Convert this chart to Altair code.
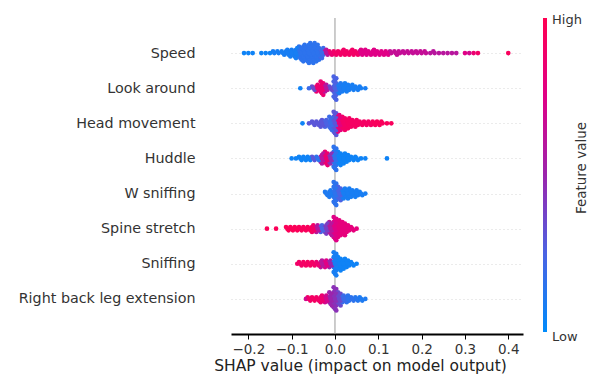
import altair as alt
import pandas as pd

# Features, top to bottom
features = ["Speed", "Look around", "Head movement", "Huddle", "W sniffing",
            "Spine stretch", "Sniffing", "Right back leg extension"]

# Per feature: SHAP bin centres, number of dots in the bin, feature value (0=low, 1=high)
speed_x = [-0.21, -0.20, -0.19, -0.17, -0.16, -0.15, -0.14, -0.13, -0.12, -0.11, -0.10, -0.09, -0.08,
           -0.07, -0.06, -0.05, -0.04, -0.03, -0.02, -0.01, 0.00, 0.01, 0.02, 0.03, 0.04, 0.05, 0.06,
           0.07, 0.08, 0.09, 0.10, 0.11, 0.12, 0.13, 0.14, 0.15, 0.16, 0.17, 0.18, 0.19, 0.20, 0.21,
           0.22, 0.23, 0.24, 0.25, 0.26, 0.27, 0.28, 0.30, 0.31, 0.32, 0.33, 0.40]
speed_n = [1, 1, 1, 1, 1, 1, 2, 2, 3, 4, 5, 7, 9, 11, 13, 13, 11, 7, 4, 3, 3, 3, 4, 3, 4, 3, 4,
           4, 3, 4, 3, 3, 3, 2, 3, 2, 2, 2, 2, 2, 2, 2, 1, 2, 1, 1, 1, 1, 1, 1, 1, 1, 1, 1]
speed_c = [0.05, 0.05, 0.05, 0.05, 0.05, 0.05, 0.08, 0.08, 0.08, 0.08, 0.08, 0.08, 0.15, 0.15, 0.15,
           0.15, 0.15, 0.2, 0.6, 0.85, 0.9, 0.9, 0.9, 0.9, 0.9, 0.9, 0.75, 0.75, 0.75, 0.75, 0.75,
           0.75, 0.75, 0.65, 0.65, 0.65, 0.65, 0.65, 0.65, 0.65, 0.65, 0.65, 0.6, 0.6, 0.6, 0.6, 0.6,
           0.6, 0.6, 0.75, 0.7, 0.85, 0.9, 0.95]

look_x = [-0.08, -0.06, -0.05, -0.04, -0.03, -0.02, -0.01, 0.00, 0.01, 0.02, 0.03, 0.04, 0.05, 0.06, 0.07]
look_n = [1, 1, 3, 5, 9, 5, 3, 15, 7, 6, 5, 4, 3, 2, 1]
look_c = [0.05, 0.2, 0.35, 0.85, 0.85, 0.6, 0.35, 0.25, 0.1, 0.08, 0.08, 0.08, 0.08, 0.08, 0.08]

head_x = [-0.075, -0.06, -0.05, -0.04, -0.03, -0.02, -0.01, 0.00, 0.01, 0.02, 0.03, 0.04, 0.05,
          0.06, 0.07, 0.08, 0.09, 0.10, 0.11, 0.12, 0.13]
head_n = [1, 1, 3, 3, 5, 5, 9, 15, 11, 9, 7, 5, 5, 3, 3, 3, 3, 3, 2, 1, 1]
head_c = [0.05, 0.3, 0.3, 0.3, 0.3, 0.25, 0.2, 0.3, 0.8, 0.9, 0.92, 0.92, 0.92, 0.92, 0.92, 0.92,
          0.95, 0.95, 0.95, 0.95, 0.95]

huddle_x = [-0.10, -0.09, -0.08, -0.07, -0.06, -0.05, -0.04, -0.03, -0.02, -0.01, 0.00, 0.01, 0.02,
            0.03, 0.04, 0.05, 0.06, 0.07, 0.12]
huddle_n = [1, 1, 3, 3, 3, 3, 3, 7, 9, 7, 15, 9, 7, 5, 3, 3, 1, 1, 1]
huddle_c = [0.05, 0.05, 0.05, 0.05, 0.05, 0.3, 0.15, 0.6, 0.85, 0.45, 0.15, 0.05, 0.05, 0.05, 0.05,
            0.05, 0.05, 0.05, 0.05]

wsniff_x = [-0.02, -0.01, 0.00, 0.01, 0.02, 0.03, 0.04, 0.05, 0.06, 0.07]
wsniff_n = [3, 5, 15, 9, 7, 7, 5, 5, 3, 1]
wsniff_c = [0.1, 0.1, 0.15, 0.25, 0.08, 0.08, 0.08, 0.08, 0.08, 0.08]

spine_x = [-0.157, -0.136, -0.11, -0.10, -0.09, -0.08, -0.07, -0.06, -0.05, -0.04, -0.03, -0.02,
           -0.01, 0.00, 0.01, 0.02, 0.03, 0.04, 0.05]
spine_n = [1, 1, 3, 3, 3, 3, 3, 3, 5, 5, 5, 7, 9, 15, 11, 9, 5, 3, 1]
spine_c = [0.97, 0.97, 0.97, 0.97, 0.97, 0.95, 0.95, 0.95, 0.9, 0.6, 0.25, 0.4, 0.6, 0.75, 0.8,
           0.8, 0.8, 0.8, 0.8]

sniff_x = [-0.087, -0.08, -0.07, -0.06, -0.05, -0.04, -0.03, -0.02, -0.01, 0.00, 0.01, 0.02, 0.03, 0.04, 0.05]
sniff_n = [1, 3, 3, 3, 3, 3, 5, 5, 5, 15, 9, 7, 5, 3, 1]
sniff_c = [0.9, 0.9, 0.92, 0.92, 0.9, 0.85, 0.6, 0.75, 0.5, 0.08, 0.05, 0.05, 0.05, 0.05, 0.05]

rbl_x = [-0.067, -0.06, -0.05, -0.04, -0.03, -0.02, -0.01, 0.00, 0.01, 0.02, 0.03, 0.04, 0.05, 0.06, 0.07]
rbl_n = [1, 3, 3, 3, 5, 5, 9, 15, 9, 5, 5, 3, 3, 3, 1]
rbl_c = [0.7, 0.9, 0.92, 0.9, 0.85, 0.7, 0.5, 0.45, 0.35, 0.2, 0.15, 0.15, 0.12, 0.1, 0.1]

x_ticks = [-0.2, -0.1, 0.0, 0.1, 0.2, 0.3, 0.4]

series = [
    (speed_x, speed_n, speed_c),
    (look_x, look_n, look_c),
    (head_x, head_n, head_c),
    (huddle_x, huddle_n, huddle_c),
    (wsniff_x, wsniff_n, wsniff_c),
    (spine_x, spine_n, spine_c),
    (sniff_x, sniff_n, sniff_c),
    (rbl_x, rbl_n, rbl_c),
]

# Expand bins into stacked beeswarm dots (layout: alternate above/below row line)
n_feat = len(features)
row_of = {name: n_feat - 1 - i for i, name in enumerate(features)}
spread = [0.0, -0.003, 0.003]
rows = []
for name, (xs, ns, cs) in zip(features, series):
    r = row_of[name]
    for x, n, c in zip(xs, ns, cs):
        for k in range(n):
            side = (k + 1) // 2 * (1 if k % 2 else -1)
            rows.append({"feature": name, "shap": x + (spread[k % 3] if n > 1 else 0.0),
                         "row": r + side * 0.047, "val": c, "order": -abs(side)})
dots = pd.DataFrame(rows)

label_arr = "[" + ",".join("'" + f + "'" for f in reversed(features)) + "]"

xscale = alt.Scale(domain=[-0.24, 0.434], nice=False, zero=False)
yscale = alt.Scale(domain=[-1, n_feat], nice=False, zero=False)

zero_line = alt.Chart(pd.DataFrame({"x": [0.0]})).mark_rule(color="#999999", strokeWidth=1).encode(
    x=alt.X("x:Q", scale=xscale)
)

points = alt.Chart(dots).mark_circle(size=22, opacity=1).encode(
    x=alt.X("shap:Q", scale=xscale,
            axis=alt.Axis(values=x_ticks, format=".1f", title="SHAP value (impact on model output)",
                          grid=False, domainColor="#000000", domainWidth=1.8, tickColor="#000000",
                          tickSize=5, labelFontSize=13.5, labelColor="#333333", titleFontSize=15.5,
                          titleColor="#222222", titleFontWeight="normal", titlePadding=3,
                          titleX=129, labelPadding=3)),
    y=alt.Y("row:Q", scale=yscale,
            axis=alt.Axis(values=list(range(n_feat)), labelExpr=label_arr + "[datum.value]",
                          title=None, domain=False, ticks=False, grid=True, gridColor="#cccccc",
                          gridDash=[1, 3], gridWidth=0.8, labelFontSize=14.3, labelColor="#333333",
                          labelPadding=36)),
    color=alt.Color("val:Q",
                    scale=alt.Scale(domain=[0, 1],
                                    range=["#008bfb", "#4b63e3", "#9b24ad", "#e00086", "#ff0052"],
                                    interpolate="rgb"),
                    legend=alt.Legend(orient="none", legendX=312, legendY=0, direction="vertical",
                                      title=None, gradientLength=314, gradientThickness=4,
                                      gradientStrokeWidth=0, values=[0, 1], labelExpr="''")),
    order=alt.Order("order:Q"),
)

high_txt = alt.Chart(pd.DataFrame({"t": ["High"]})).mark_text(
    align="left", baseline="middle", fontSize=13, color="#333333", font="DejaVu Sans"
).encode(x=alt.value(321), y=alt.value(2), text="t:N")

low_txt = alt.Chart(pd.DataFrame({"t": ["Low"]})).mark_text(
    align="left", baseline="middle", fontSize=13, color="#333333", font="DejaVu Sans"
).encode(x=alt.value(321), y=alt.value(319), text="t:N")

title_txt = alt.Chart(pd.DataFrame({"t": ["Feature value"]})).mark_text(
    angle=270, fontSize=13.5, color="#333333", font="DejaVu Sans"
).encode(x=alt.value(351), y=alt.value(150), text="t:N")

chart = alt.layer(zero_line, points, high_txt, low_txt, title_txt).properties(
    width=292, height=316,
    autosize=alt.AutoSizeParams(type="none"),
    padding={"left": 231, "top": 18, "right": 72, "bottom": 45},
).configure(font="DejaVu Sans").configure_view(stroke=None)

chart.save("out.html", embed_options={"renderer": "svg", "actions": False})
